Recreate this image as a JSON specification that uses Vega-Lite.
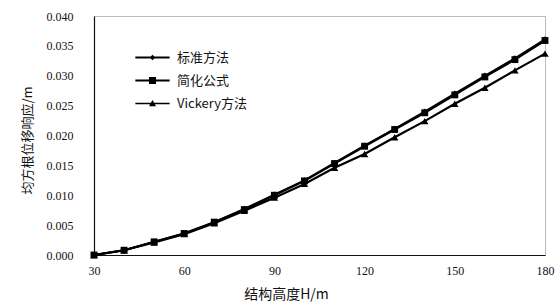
{
  "$schema": "https://vega.github.io/schema/vega-lite/v6.json",
  "autosize": "none",
  "width": 451,
  "height": 239,
  "padding": {"left": 94, "top": 16, "right": 11, "bottom": 49},
  "background": "white",
  "config": {
    "view": {"stroke": "#777", "strokeDash": [1, 1], "strokeWidth": 1},
    "axis": {"labelFont": "Liberation Serif", "labelFontSize": 12, "labelColor": "#111", "titleFont": "Noto Sans CJK SC", "titleFontWeight": "normal", "titleColor": "#111", "grid": false, "ticks": false, "domainColor": "#111", "domainWidth": 1.2}
  },
  "data": {"values": [
    {"H": 30, "method": "Vickery方法", "u": 0.0000},
    {"H": 40, "method": "Vickery方法", "u": 0.0008},
    {"H": 50, "method": "Vickery方法", "u": 0.0021},
    {"H": 60, "method": "Vickery方法", "u": 0.0035},
    {"H": 70, "method": "Vickery方法", "u": 0.0053},
    {"H": 80, "method": "Vickery方法", "u": 0.0074},
    {"H": 90, "method": "Vickery方法", "u": 0.0096},
    {"H": 100, "method": "Vickery方法", "u": 0.0119},
    {"H": 110, "method": "Vickery方法", "u": 0.0146},
    {"H": 120, "method": "Vickery方法", "u": 0.0169},
    {"H": 130, "method": "Vickery方法", "u": 0.0197},
    {"H": 140, "method": "Vickery方法", "u": 0.0224},
    {"H": 150, "method": "Vickery方法", "u": 0.0253},
    {"H": 160, "method": "Vickery方法", "u": 0.0280},
    {"H": 170, "method": "Vickery方法", "u": 0.0309},
    {"H": 180, "method": "Vickery方法", "u": 0.0337},
    {"H": 30, "method": "标准方法", "u": 0.0000},
    {"H": 40, "method": "标准方法", "u": 0.0008},
    {"H": 50, "method": "标准方法", "u": 0.0022},
    {"H": 60, "method": "标准方法", "u": 0.0036},
    {"H": 70, "method": "标准方法", "u": 0.0055},
    {"H": 80, "method": "标准方法", "u": 0.0077},
    {"H": 90, "method": "标准方法", "u": 0.0101},
    {"H": 100, "method": "标准方法", "u": 0.0125},
    {"H": 110, "method": "标准方法", "u": 0.0154},
    {"H": 120, "method": "标准方法", "u": 0.0183},
    {"H": 130, "method": "标准方法", "u": 0.0211},
    {"H": 140, "method": "标准方法", "u": 0.0240},
    {"H": 150, "method": "标准方法", "u": 0.0270},
    {"H": 160, "method": "标准方法", "u": 0.0300},
    {"H": 170, "method": "标准方法", "u": 0.0329},
    {"H": 180, "method": "标准方法", "u": 0.0361},
    {"H": 30, "method": "简化公式", "u": 0.0000},
    {"H": 40, "method": "简化公式", "u": 0.0008},
    {"H": 50, "method": "简化公式", "u": 0.0022},
    {"H": 60, "method": "简化公式", "u": 0.0036},
    {"H": 70, "method": "简化公式", "u": 0.0055},
    {"H": 80, "method": "简化公式", "u": 0.0076},
    {"H": 90, "method": "简化公式", "u": 0.0100},
    {"H": 100, "method": "简化公式", "u": 0.0124},
    {"H": 110, "method": "简化公式", "u": 0.0153},
    {"H": 120, "method": "简化公式", "u": 0.0182},
    {"H": 130, "method": "简化公式", "u": 0.0210},
    {"H": 140, "method": "简化公式", "u": 0.0238},
    {"H": 150, "method": "简化公式", "u": 0.0268},
    {"H": 160, "method": "简化公式", "u": 0.0298},
    {"H": 170, "method": "简化公式", "u": 0.0327},
    {"H": 180, "method": "简化公式", "u": 0.0359}
  ]},
  "encoding": {
    "x": {"field": "H", "type": "quantitative", "scale": {"domain": [30, 180], "nice": false, "zero": false},
      "axis": {"values": [30, 60, 90, 120, 150, 180], "labelFlush": false, "labelPadding": 10, "labelDx": -6, "title": "结构高度H/m", "titleFontSize": 14, "titleX": 192, "titleY": 32, "titleAnchor": null}},
    "y": {"field": "u", "type": "quantitative", "scale": {"domain": [0, 0.04], "nice": false},
      "axis": {"values": [0, 0.005, 0.01, 0.015, 0.02, 0.025, 0.03, 0.035, 0.04], "format": ".3f", "labelPadding": 21, "title": "均方根位移响应/m", "titleFontSize": 13, "titleX": -60, "titleY": 124, "titleAngle": -90}}
  },
  "resolve": {"scale": {"shape": "independent", "strokeWidth": "independent", "size": "independent"}},
  "layer": [
    {
      "mark": {"type": "line", "color": "black"},
      "encoding": {
        "detail": {"field": "method"},
        "strokeWidth": {"field": "method", "type": "nominal", "scale": {"domain": ["标准方法", "简化公式", "Vickery方法"], "range": [2, 2.2, 1.4]}, "legend": null}
      }
    },
    {
      "mark": {"type": "point", "filled": true, "color": "black", "opacity": 1},
      "encoding": {
        "shape": {"field": "method", "type": "nominal", "scale": {"domain": ["标准方法", "简化公式", "Vickery方法"], "range": ["diamond", "square", "triangle-up"]}, "legend": null},
        "size": {"field": "method", "type": "nominal", "scale": {"domain": ["标准方法", "简化公式", "Vickery方法"], "range": [40, 55, 40]}, "legend": null}
      }
    },
    {
      "transform": [{"filter": "false"}],
      "mark": {"type": "point", "filled": true, "color": "black", "opacity": 1, "strokeWidth": 0},
      "encoding": {
        "shape": {"field": "method", "type": "nominal",
          "scale": {"domain": ["标准方法", "简化公式", "Vickery方法"],
            "range": [
              "M-4.9,-0.3L4.9,-0.3L4.9,0.3L-4.9,0.3Z M0,-0.8L0.8,0L0,0.8L-0.8,0Z",
              "M-4.9,-0.3L4.9,-0.3L4.9,0.3L-4.9,0.3Z M-1,-1L1,-1L1,1L-1,1Z",
              "M-4.9,-0.2L4.9,-0.2L4.9,0.2L-4.9,0.2Z M0,-1L1,0.8L-1,0.8Z"
            ]},
          "legend": {"orient": "none", "legendX": 52, "legendY": 35, "title": null, "symbolSize": 49, "symbolOpacity": 1, "symbolFillColor": "black", "symbolStrokeWidth": 0, "labelOffset": 18, "rowPadding": 9, "labelFont": "Noto Sans CJK SC", "labelFontSize": 13, "labelColor": "#111", "padding": 0}
        }
      }
    }
  ]
}
